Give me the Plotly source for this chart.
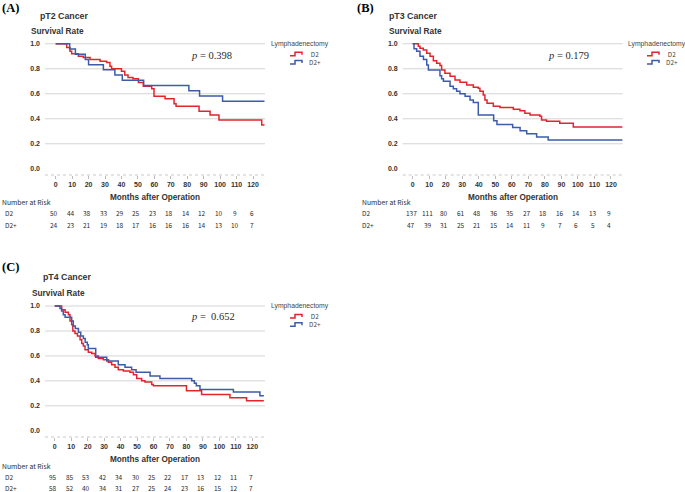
import plotly.graph_objects as go

W, H = 685, 492

# ---------------- data ----------------
month_ticks = list(range(0, 130, 10))
y_ticks = [0.0, 0.2, 0.4, 0.6, 0.8, 1.0]
y_tick_labels = ["0.0", "0.2", "0.4", "0.6", "0.8", "1.0"]
groups = ["D2", "D2+"]

# pT2 cancer
pT2_D2_time = [0, 6.7, 8.7, 9.7, 13.8, 16.8, 20.9, 27, 31, 33, 34, 40, 42, 44, 47, 50.3, 53.3,
               58.4, 59.8, 66.5, 72, 73.2, 87.2, 93.9, 99.3, 125.3, 127]
pT2_D2_surv = [1, 0.97, 0.94, 0.92, 0.90, 0.89, 0.875, 0.86, 0.85, 0.82, 0.80, 0.78, 0.75, 0.73,
               0.72, 0.69, 0.66, 0.64, 0.58, 0.56, 0.52, 0.50, 0.46, 0.43, 0.39, 0.35, 0.35]
pT2_D2p_time = [0, 8.5, 12, 18, 20, 29, 36, 40.5, 53.5, 81, 87.5, 101.5, 127]
pT2_D2p_surv = [1, 0.958, 0.917, 0.875, 0.833, 0.792, 0.75, 0.708, 0.667, 0.625, 0.583, 0.54, 0.54]
pT2_risk_D2 = [50, 44, 38, 33, 29, 25, 23, 18, 14, 12, 10, 9, 6]
pT2_risk_D2p = [24, 23, 21, 19, 18, 17, 16, 16, 16, 14, 13, 10, 7]

# pT3 cancer
pT3_D2_time = [0, 3.4, 4.4, 6.4, 8.5, 10.5, 12.5, 14.5, 16.5, 17.5, 19.5, 22.6, 25.6, 28.6, 32.7,
               36.7, 39.7, 40.7, 42.7, 43.7, 45, 48.8, 52.8, 60.9, 64.9, 67.9, 71, 77, 78, 81, 89,
               97.2, 127]
pT3_D2_surv = [1, 0.98, 0.965, 0.95, 0.925, 0.90, 0.865, 0.845, 0.827, 0.79, 0.765, 0.74, 0.71,
               0.693, 0.67, 0.653, 0.645, 0.62, 0.59, 0.55, 0.525, 0.50, 0.49, 0.477, 0.464, 0.445,
               0.43, 0.42, 0.39, 0.38, 0.365, 0.335, 0.335]
pT3_D2p_time = [0, 0.8, 2.4, 4.4, 6.5, 8.5, 9.5, 16.5, 17.5, 18.6, 22.6, 24.6, 26.6, 28.6, 31.7,
                34.7, 36.7, 39.7, 49, 51, 60.5, 65, 69, 75, 82, 127]
pT3_D2p_surv = [1, 0.96, 0.94, 0.90, 0.875, 0.83, 0.79, 0.745, 0.72, 0.70, 0.66, 0.64, 0.62,
                0.60, 0.58, 0.55, 0.53, 0.43, 0.385, 0.355, 0.33, 0.305, 0.28, 0.255, 0.23, 0.23]
pT3_risk_D2 = [137, 111, 80, 61, 48, 36, 35, 27, 18, 16, 14, 13, 9]
pT3_risk_D2p = [47, 39, 31, 25, 21, 15, 14, 11, 9, 7, 6, 5, 4]

# pT4 cancer
pT4_D2_time = [0, 4.2, 6.3, 8.3, 9.3, 10.3, 11.0, 12.3, 13.8, 15.4, 16.4, 17.4, 18.4, 20.4, 22.5,
               24.5, 26.5, 29.5, 32.6, 34.6, 36.6, 38.6, 41.7, 45.7, 47.8, 49.8, 52.8, 54.8, 58.9,
               59.9, 80.0, 89.2, 106.4, 116.5, 127]
pT4_D2_surv = [1, 0.97, 0.95, 0.93, 0.88, 0.85, 0.80, 0.78, 0.76, 0.73, 0.70, 0.68, 0.65, 0.63,
               0.62, 0.60, 0.58, 0.57, 0.55, 0.53, 0.51, 0.49, 0.48, 0.47, 0.45, 0.42, 0.40, 0.39,
               0.37, 0.36, 0.32, 0.29, 0.265, 0.24, 0.24]
pT4_D2p_time = [0, 3.2, 4.2, 5.2, 6.3, 10.3, 11.3, 12.5, 14.4, 15.8, 17.4, 18.5, 19.8, 20.4, 24.9,
                31.6, 38.6, 42.7, 46.7, 49.4, 57.9, 63.9, 83.2, 84.8, 86, 88.2, 108.5, 124.6, 127]
pT4_D2p_surv = [1, 0.98, 0.96, 0.93, 0.91, 0.88, 0.84, 0.82, 0.79, 0.76, 0.74, 0.71, 0.69, 0.66,
                0.59, 0.56, 0.53, 0.51, 0.49, 0.47, 0.44, 0.42, 0.40, 0.38, 0.36, 0.33, 0.31, 0.28,
                0.28]
pT4_risk_D2 = [95, 85, 53, 42, 34, 30, 25, 22, 17, 13, 12, 11, 7]
pT4_risk_D2p = [58, 52, 40, 34, 31, 27, 25, 24, 23, 16, 15, 12, 7]

p_values = ["0.398", "0.179", "0.652"]
titles = ["pT2 Cancer", "pT3 Cancer", "pT4 Cancer"]
panel_labels = ["(A)", "(B)", "(C)"]

# ---------------- style / layout ----------------
RED = "#e0262c"
BLUE = "#3c5ba9"
GRID = "#d4d4d4"
TXT = "#2a2a2a"
SANS = "Liberation Sans, Arial, sans-serif"
SERIF = "Liberation Serif, Times New Roman, serif"
CJK = "Noto Sans CJK SC, sans-serif"


def fx(x):
    return x / W


def fy(y):
    return 1 - y / H


panels = [
    dict(xa="x", ya="y", left=45, right=265, top=40, bottom=175, xr=[-6.5, 127.3],
         curves=[(pT2_D2_time, pT2_D2_surv, RED), (pT2_D2p_time, pT2_D2p_surv, BLUE)],
         risk=[pT2_risk_D2, pT2_risk_D2p],
         lab=(10, 7.5), title=(39, 16), surv=(30, 31), xt=(155, 197.3), nar=(1, 202.3),
         rows=(213.3, 225.0), rowx=4, pv=(190, 55.7), leg=(270, 43.7)),
    dict(xa="x2", ya="y2", left=402.7, right=622.7, top=40, bottom=175, xr=[-6.05, 127.1],
         curves=[(pT3_D2_time, pT3_D2_surv, RED), (pT3_D2p_time, pT3_D2p_surv, BLUE)],
         risk=[pT3_risk_D2, pT3_risk_D2p],
         lab=(365, 7.5), title=(388, 16), surv=(388, 31), xt=(512.5, 197.3), nar=(360.7, 202.3),
         rows=(213.3, 225.0), rowx=360.7, pv=(546.7, 55), leg=(627, 43.7)),
    dict(xa="x3", ya="y3", left=45, right=265, top=302.3, bottom=437, xr=[-5.9, 127.7],
         curves=[(pT4_D2_time, pT4_D2_surv, RED), (pT4_D2p_time, pT4_D2p_surv, BLUE)],
         risk=[pT4_risk_D2, pT4_risk_D2p],
         lab=(10, 266.7), title=(41.7, 277.3), surv=(30.7, 292.7), xt=(155, 459),
         nar=(1, 466), rows=(477.3, 487.6), rowx=4, pv=(190, 316.7), leg=(270, 306)),
]

fig = go.Figure()
annotations = []
shapes = []
layout_axes = {}

for i, P in enumerate(panels):
    suffix = "" if i == 0 else str(i + 1)
    for (t, s, col), g in zip(P["curves"], groups):
        fig.add_trace(go.Scatter(x=t, y=s, mode="lines", name=g,
                                 line=dict(shape="hv", color=col, width=1.5),
                                 xaxis=P["xa"], yaxis=P["ya"], showlegend=False,
                                 hoverinfo="skip"))
    layout_axes["xaxis" + suffix] = dict(
        domain=[fx(P["left"]), fx(P["right"])], range=P["xr"], anchor=P["ya"],
        tickvals=month_ticks, ticks="outside", ticklen=3, tickcolor="#bbbbbb",
        showgrid=False, zeroline=False, showline=False,
        tickfont=dict(family=SANS, size=7, color="#333333", weight="bold"))
    layout_axes["yaxis" + suffix] = dict(
        domain=[fy(P["bottom"]), fy(P["top"])], range=[-0.05, 1.03], anchor=P["xa"],
        tickvals=y_ticks, ticktext=y_tick_labels, ticks="", showgrid=False,
        zeroline=False, showline=False, ticklabelstandoff=4,
        tickfont=dict(family=SANS, size=7, color="#333333", weight="bold"))
    # grid lines (no line at 0.0)
    for yv in y_ticks[1:]:
        shapes.append(dict(type="line", xref=P["xa"] + " domain", yref=P["ya"],
                           x0=0, x1=1, y0=yv, y1=yv, layer="below",
                           line=dict(color=GRID, width=1)))
    # dotted bottom axis line
    shapes.append(dict(type="line", xref=P["xa"] + " domain", yref=P["ya"] + " domain",
                       x0=0, x1=1, y0=0, y1=0, layer="below",
                       line=dict(color="#c8c8c8", width=1, dash="dot")))

    def txt(x, y, text, size, family=SANS, color=TXT, xanchor="left", **kw):
        annotations.append(dict(x=fx(x), y=fy(y), xref="paper", yref="paper", text=text,
                                showarrow=False, xanchor=xanchor, yanchor="middle",
                                borderpad=0,
                                font=dict(family=family, size=size, color=color, **kw)))

    txt(P["lab"][0], P["lab"][1], "<b>%s</b>" % panel_labels[i], 12.5, family=SERIF,
        color="#000000", xanchor="center")
    txt(P["title"][0], P["title"][1], titles[i], 8.8, weight="bold", color="#333333")
    txt(P["surv"][0], P["surv"][1], "Survival Rate", 8.3, weight="bold", color="#333333")
    txt(P["xt"][0], P["xt"][1], "Months after Operation", 8.2, xanchor="center",
        weight="bold", color="#333333")
    txt(P["nar"][0], P["nar"][1], "Number at Risk", 6.8, family=CJK)
    sep = " = " if i < 2 else " =  "
    txt(P["pv"][0], P["pv"][1], "<i>p</i>" + sep + p_values[i], 10.5, family=SERIF)
    for r, g, ry in zip(P["risk"], groups, P["rows"]):
        txt(P["rowx"], ry, g, 6.5, family=CJK)
        for m, n in zip(month_ticks, r):
            annotations.append(dict(x=m, y=fy(ry), xref=P["xa"], yref="paper", text=str(n),
                                    showarrow=False, xanchor="center", yanchor="middle",
                                    xshift=-1.5, borderpad=0,
                                    font=dict(family=CJK, size=6.5, color=TXT)))
    # manual legend
    lx, ly = P["leg"]
    txt(lx, ly, "Lymphadenectomy", 6.8, color="#444444")
    sx = lx + 20
    for k, col in enumerate([RED, BLUE]):
        yy = ly + 10.5 + k * 8.3
        path = "M %f,%f L %f,%f L %f,%f L %f,%f L %f,%f" % (
            fx(sx), fy(yy + 1.5), fx(sx + 5), fy(yy + 1.5), fx(sx + 5), fy(yy - 2),
            fx(sx + 12), fy(yy - 2), fx(sx + 12), fy(yy + 0.5))
        shapes.append(dict(type="path", xref="paper", yref="paper", path=path,
                           line=dict(color=col, width=1.5)))
    txt(sx + 17.5, ly + 10.5 + 8.3 / 2, "<br>".join(groups), 6.4, family=CJK,
        color="#444444")

fig.update_layout(width=W, height=H, margin=dict(l=0, r=0, t=0, b=0),
                  paper_bgcolor="white", plot_bgcolor="white",
                  annotations=annotations, shapes=shapes, **layout_axes)

fig.write_html("out.html", config={"displayModeBar": False},
               post_script="document.body.style.margin='0';document.body.style.overflow='hidden';")
